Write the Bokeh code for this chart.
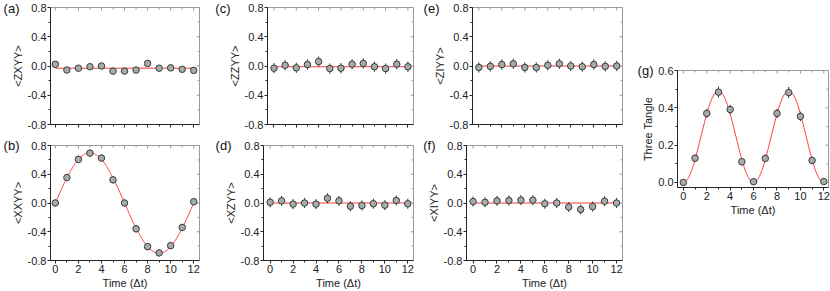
import numpy as np
from bokeh.plotting import figure
from bokeh.models import LinearAxis, FixedTicker, PrintfTickFormatter, Range1d
from bokeh.layouts import row, column
from bokeh.embed import file_html
from bokeh.resources import INLINE

# ---------------- data ----------------
time_steps = list(range(13))
x_ticks = [0, 2, 4, 6, 8, 10, 12]
x_minor = [1, 3, 5, 7, 9, 11]
y_ticks = [-0.8, -0.4, 0.0, 0.4, 0.8]
y_minor = [-0.6, -0.2, 0.2, 0.6]
tangle_ticks = [0.0, 0.2, 0.4, 0.6]
tangle_minor = [0.1, 0.3, 0.5]

zxyy = [0.023, -0.055, -0.03, -0.01, 0.0, -0.07, -0.07, -0.055, 0.035, -0.03, -0.025, -0.045, -0.06]
zxyy_err = [0.04] * 13
zxyy_fit = -0.03

xxyy = [0.0, 0.354, 0.607, 0.694, 0.625, 0.322, 0.0, -0.359, -0.607, -0.694, -0.593, -0.34, 0.018]
xxyy_err = [0.05] * 13
xxyy_amp = 0.70
xxyy_period = 12.0

zzyy = [-0.03, 0.01, -0.025, 0.02, 0.06, -0.035, -0.03, 0.025, 0.035, -0.01, -0.035, 0.025, -0.01]
zzyy_err = [0.07] * 13
zzyy_fit = -0.01

xzyy = [0.01, 0.03, -0.015, 0.0, -0.015, 0.065, 0.03, -0.045, -0.035, -0.01, -0.03, 0.035, -0.01]
xzyy_err = [0.07] * 13
xzyy_fit = 0.0

ziyy = [-0.02, -0.005, 0.02, 0.03, -0.02, -0.02, 0.01, 0.03, 0.0, -0.01, 0.02, -0.005, 0.0]
ziyy_err = [0.07] * 13
ziyy_fit = 0.0

xiyy = [0.02, 0.01, 0.03, 0.035, 0.04, 0.04, -0.01, 0.0, -0.055, -0.09, -0.05, 0.025, 0.0]
xiyy_err = [0.07] * 13
xiyy_fit = 0.0

tangle = [0.0, 0.13, 0.37, 0.484, 0.391, 0.111, 0.004, 0.129, 0.37, 0.482, 0.354, 0.118, 0.005]
tangle_err = [0.01, 0.02, 0.025, 0.03, 0.025, 0.02, 0.01, 0.02, 0.025, 0.03, 0.025, 0.02, 0.01]
tangle_amp = 0.49
tangle_period = 6.0

x_label = "Time (\u0394t)"

# ---------------- style ----------------
FONT = "Liberation Sans"
RED = "#ff3a3a"
DARK = "#222222"
GREY = "#999999"


def style_axis(ax, show_labels=True):
    ax.axis_line_color = DARK
    ax.major_tick_line_color = DARK
    ax.minor_tick_line_color = DARK
    ax.major_tick_out = 3
    ax.major_tick_in = 0
    ax.minor_tick_out = 2
    ax.minor_tick_in = 0
    ax.major_label_text_font = FONT
    ax.major_label_text_font_size = "11px" if show_labels else "0px"
    ax.major_label_text_color = DARK if show_labels else None
    ax.major_label_standoff = 1 if show_labels else 0
    ax.axis_label_text_font = FONT
    ax.axis_label_text_font_size = "11px"
    ax.axis_label_text_font_style = "normal"
    ax.axis_label_text_color = DARK
    ax.axis_label_standoff = 1


def panel(tag, ylabel, y, err, fit_x, fit_y, fw, fh, bl, br, bt, bb, show_x,
          x_lo, x_hi, y_lo, y_hi, yt, ym, tag_standoff):
    p = figure(width=bl + fw + br, height=bt + fh + bb,
               min_border_left=bl, min_border_right=br,
               min_border_top=bt, min_border_bottom=bb,
               x_range=Range1d(x_lo, x_hi), y_range=Range1d(y_lo, y_hi),
               output_backend="svg", toolbar_location=None, tools="")
    p.outline_line_color = GREY
    p.outline_line_width = 1
    p.grid.visible = False
    p.background_fill_color = "white"
    p.border_fill_color = "white"

    p.xaxis.ticker = FixedTicker(ticks=x_ticks, minor_ticks=x_minor)
    p.yaxis.ticker = FixedTicker(ticks=yt, minor_ticks=ym)
    p.yaxis.formatter = PrintfTickFormatter(format="%.1f")
    style_axis(p.xaxis[0], show_x)
    style_axis(p.yaxis[0], True)
    p.yaxis.axis_label = ylabel
    if show_x:
        p.xaxis.axis_label = x_label

    # panel tag, drawn as the label of an outer left axis at the top of the frame
    p.add_layout(LinearAxis(ticker=FixedTicker(ticks=[y_hi], minor_ticks=[]),
                            major_label_overrides={y_hi: tag}, axis_line_color=None,
                            major_tick_line_color=None, minor_tick_line_color=None,
                            major_tick_out=0, major_tick_in=0, minor_tick_out=0, minor_tick_in=0,
                            major_label_standoff=tag_standoff, major_label_text_font=FONT,
                            major_label_text_font_size="13px", major_label_text_color="#111111"),
                 "left")

    # inward mirror ticks on the top and right edges of the frame
    dx = (x_hi - x_lo) / fw
    dy = (y_hi - y_lo) / fh
    xt_all = x_ticks + x_minor
    xt_len = [3 * dy] * len(x_ticks) + [2 * dy] * len(x_minor)
    p.segment(x0=xt_all, y0=[y_hi] * len(xt_all), x1=xt_all,
              y1=[y_hi - L for L in xt_len], line_color=GREY, line_width=1)
    yt_all = list(yt) + list(ym)
    yt_len = [3 * dx] * len(yt) + [2 * dx] * len(ym)
    p.segment(x0=[x_hi] * len(yt_all), y0=yt_all, x1=[x_hi - L for L in yt_len],
              y1=yt_all, line_color=GREY, line_width=1)

    p.line(fit_x, fit_y, line_color=RED, line_width=1)
    y_arr = np.array(y)
    e_arr = np.array(err)
    p.segment(x0=time_steps, y0=list(y_arr - e_arr), x1=time_steps, y1=list(y_arr + e_arr),
              line_color="#333333", line_width=1)
    p.scatter(time_steps, y, marker="circle", size=6.5, fill_color="#a4acac",
              line_color="#3a3a3a", line_width=1)
    return p


flat_x = [time_steps[0], time_steps[-1]]
curve_t = np.linspace(0, 12, 241)
xxyy_curve = xxyy_amp * np.sin(2 * np.pi * curve_t / xxyy_period)
tangle_curve = tangle_amp * np.sin(np.pi * curve_t / tangle_period) ** 2

YT = (y_ticks, y_minor)
pa = panel("(a)", "<ZXYY>", zxyy, zxyy_err, flat_x, [zxyy_fit] * 2, 157, 117, 42, 13, 7, 10, False,
           -0.42, 12.5, -0.8, 0.8, *YT, -11)
pc = panel("(c)", "<ZZYY>", zzyy, zzyy_err, flat_x, [zzyy_fit] * 2, 158, 117, 43, 7, 7, 10, False,
           -0.58, 12.5, -0.8, 0.8, *YT, -5)
pe = panel("(e)", "<ZIYY>", ziyy, ziyy_err, flat_x, [ziyy_fit] * 2, 158, 117, 44, 8, 7, 10, False,
           -0.55, 12.5, -0.8, 0.8, *YT, -9)

pb = panel("(b)", "<XXYY>", xxyy, xxyy_err, curve_t, xxyy_curve, 157, 115, 42, 13, 11, 31, True,
           -0.42, 12.5, -0.8, 0.8, *YT, -11)
pd = panel("(d)", "<XZYY>", xzyy, xzyy_err, flat_x, [xzyy_fit] * 2, 158, 115, 43, 7, 11, 31, True,
           -0.58, 12.5, -0.8, 0.8, *YT, -10)
pf = panel("(f)", "<XIYY>", xiyy, xiyy_err, flat_x, [xiyy_fit] * 2, 158, 115, 44, 8, 11, 31, True,
           -0.55, 12.5, -0.8, 0.8, *YT, -11)

pg = panel("(g)", "Three Tangle", tangle, tangle_err, curve_t, tangle_curve, 151, 117, 47, 2, 70, 31, True,
           -0.5, 12.4, -0.027, 0.6, tangle_ticks, tangle_minor, -14)

layout = row(column(row(pa, pc, pe), row(pb, pd, pf)), pg)

open("out.html", "w").write(file_html(layout, INLINE))
